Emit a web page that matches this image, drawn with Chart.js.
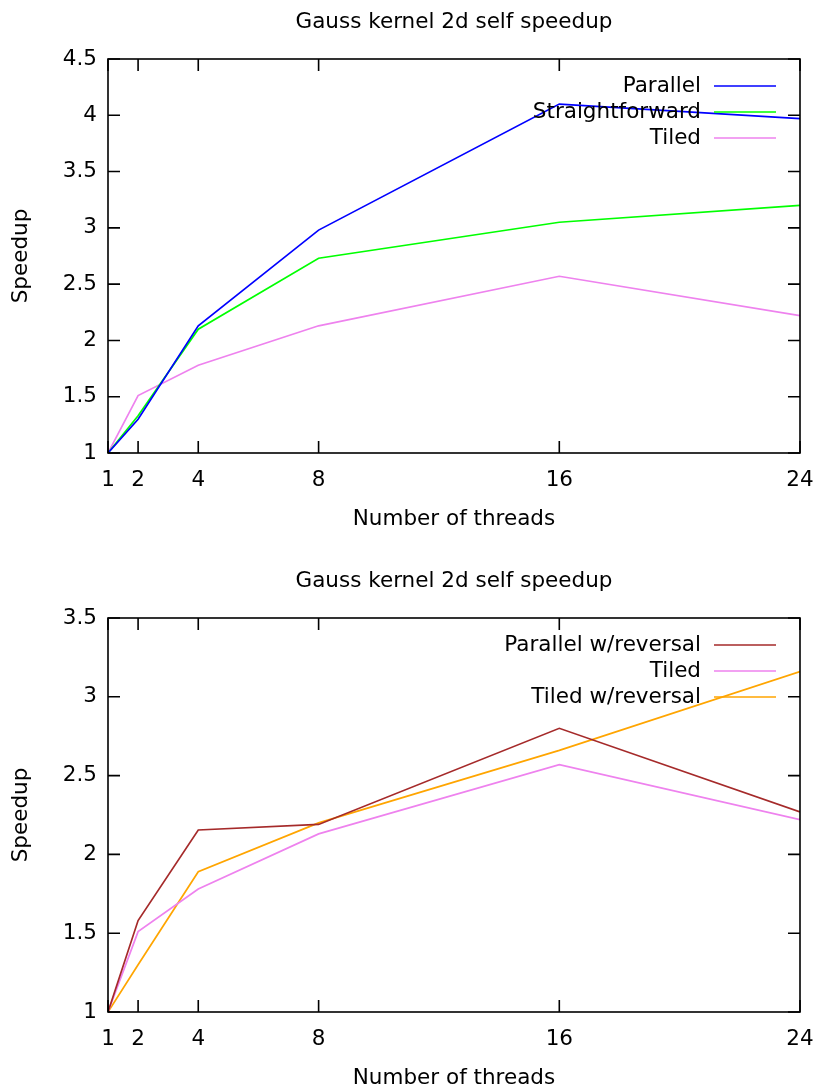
<!DOCTYPE html>
<html>
<head>
<meta charset="utf-8">
<script src="https://cdn.jsdelivr.net/npm/chart.js@4.4.1/dist/chart.umd.min.js"></script>
<style>
html,body{margin:0;padding:0;background:#fff;overflow:hidden;}
.box{position:absolute;left:0;width:814px;height:559px;}
</style>
</head>
<body>
<div class="box" style="top:0"><canvas id="top"></canvas></div>
<div class="box" style="top:559px"><canvas id="bottom"></canvas></div>
<script>
// data
const threads=[1,2,4,8,16,24];
const xTicks=[1,2,4,8,16,24];
const parallel=[1,1.30,2.13,2.98,4.10,3.97];
const straightforward=[1,1.33,2.10,2.73,3.05,3.20];
const tiled=[1,1.51,1.78,2.13,2.57,2.22];
const parallelRev=[1,1.58,2.155,2.19,2.80,2.27];
const tiledRev=[1,1.30,1.89,2.20,2.66,3.16];
const yTicksTop=[1,1.5,2,2.5,3,3.5,4,4.5];
const yTicksBottom=[1,1.5,2,2.5,3,3.5];

const FONT="DejaVu Sans";
const SIZE=21.5;
const TICK=12;

function pts(vals){
return threads.map((t,i)=>({x:t,y:vals[i]}));
}

function series(label,vals,color){
return {label:label,data:pts(vals),borderColor:color,backgroundColor:color,
borderWidth:1.7,pointRadius:0,tension:0,fill:false};
}

// gnuplot style border, inward ticks on all sides, key in the top right
const frame={
id:"frame",
afterDatasetsDraw(chart){
const {ctx,chartArea:a,scales:{x,y}}=chart;
ctx.save();
ctx.strokeStyle="#000";
ctx.lineWidth=1.6;
ctx.beginPath();
x.ticks.forEach(t=>{
const px=x.getPixelForValue(t.value);
ctx.moveTo(px,a.bottom);ctx.lineTo(px,a.bottom-TICK);
ctx.moveTo(px,a.top);ctx.lineTo(px,a.top+TICK);
});
y.ticks.forEach(t=>{
const py=y.getPixelForValue(t.value);
ctx.moveTo(a.left,py);ctx.lineTo(a.left+TICK,py);
ctx.moveTo(a.right,py);ctx.lineTo(a.right-TICK,py);
});
ctx.stroke();
ctx.strokeRect(a.left,a.top,a.width,a.height);

ctx.font=SIZE+"px '"+FONT+"'";
ctx.textAlign="right";
ctx.textBaseline="middle";
chart.data.datasets.forEach((ds,i)=>{
const ly=a.top+27+i*26;
ctx.fillStyle="#000";
ctx.fillText(ds.label,a.right-99,ly);
ctx.strokeStyle=ds.borderColor;
ctx.lineWidth=1.7;
ctx.beginPath();
ctx.moveTo(a.right-86,ly);ctx.lineTo(a.right-24,ly);
ctx.stroke();
});
ctx.restore();
}
};

function makeChart(id,datasets,yTicks){
const font={family:FONT,size:SIZE};
return new Chart(document.getElementById(id),{
type:"line",
data:{datasets:datasets},
plugins:[frame],
options:{
responsive:true,
maintainAspectRatio:false,
animation:false,
layout:{padding:{left:0,right:0,top:0,bottom:0}},
plugins:{
legend:{display:false},
tooltip:{enabled:false},
title:{display:true,fullSize:false,text:"Gauss kernel 2d self speedup",color:"#000",
font:{family:FONT,size:SIZE,weight:"normal"},padding:{top:10,bottom:23.2}}
},
scales:{
x:{
type:"linear",min:1,max:24,
afterBuildTicks:s=>{s.ticks=xTicks.map(v=>({value:v}));},
afterFit:s=>{s.height=106;s.paddingRight=14;s.paddingLeft=0;},
grid:{display:false,drawTicks:false},
border:{display:false},
ticks:{color:"#000",font:font,padding:15,maxRotation:0,autoSkip:false,callback:v=>String(v)},
title:{display:true,text:"Number of threads",color:"#000",font:font,padding:{top:0,bottom:27}}
},
y:{
min:yTicks[0],max:yTicks[yTicks.length-1],
afterBuildTicks:s=>{s.ticks=yTicks.map(v=>({value:v}));},
afterFit:s=>{s.width=108;},
grid:{display:false,drawTicks:false},
border:{display:false},
ticks:{color:"#000",font:font,padding:11,callback:v=>String(v)},
title:{display:true,text:"Speedup",color:"#000",font:font,padding:{top:9,bottom:0}}
}
}
}
});
}

makeChart("top",[
series("Parallel",parallel,"#0000ff"),
series("Straightforward",straightforward,"#00ff00"),
series("Tiled",tiled,"#ee82ee")
],yTicksTop);

makeChart("bottom",[
series("Parallel w/reversal",parallelRev,"#a52a2a"),
series("Tiled",tiled,"#ee82ee"),
series("Tiled w/reversal",tiledRev,"#ffa500")
],yTicksBottom);
</script>
</body>
</html>
